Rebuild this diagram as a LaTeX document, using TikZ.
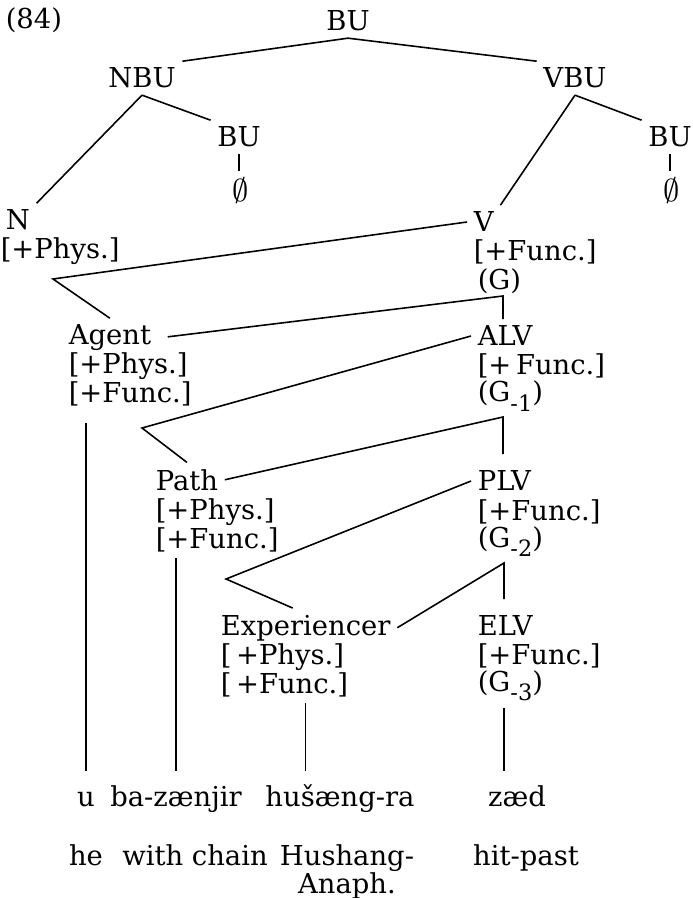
\documentclass[tikz,border=0pt]{standalone}
\usepackage{fontspec}
\setmainfont{DejaVu Serif}
\usetikzlibrary{calc}
\newcommand{\nul}{{\fontsize{9.5}{9.5}\selectfont$\emptyset$}}
\newcommand{\lowsub}[1]{\raisebox{-0.35em}{\fontsize{6.4}{6.4}\selectfont #1}}

\begin{document}
\begin{tikzpicture}[x=0.1mm, y=-0.1mm, line width=0.45pt,
    every node/.style={inner sep=0.6mm, font=\fontsize{7.8}{8.25}\selectfont},
    lbl/.style={anchor=base west},
    cat/.style={anchor=base}]
    \useasboundingbox (0,0) rectangle (692,898);

    % --- upper tree ---
    \node[lbl] (num) at (-1,29) {(84)};
    \node[cat] (bu)  at (348,31) {BU};
    \node[cat] (nbu) at (142,88) {NBU};
    \node[cat] (vbu) at (575,88) {VBU};
    \node[cat] (nbuBU) at (239,147) {BU};
    \node[cat] (vbuBU) at (670,147) {BU};
    \node[cat] (nbuNull) at (241,202) {\nul};
    \node[cat] (vbuNull) at (672,202) {\nul};

    % --- feature stacks ---
    \node[lbl] (n)     at (-1,230) {N};
    \node[lbl] (nPhys) at (-6,259) {[+Phys.]};
    \node[lbl] (v)     at (467,232) {V};
    \node[lbl] (vFunc) at (467,261) {[+Func.]};
    \node[lbl] (vG)    at (471,290) {(G)};

    \node[lbl] (agent)     at (62,345) {Agent};
    \node[lbl] (agentPhys) at (62,374) {[+Phys.]};
    \node[lbl] (agentFunc) at (62,403) {[+Func.]};
    \node[lbl] (alv)     at (471,346) {ALV};
    \node[lbl] (alvFunc) at (471,375) {[+\,Func.]};
    \node[lbl] (alvG)    at (471,402) {(G\lowsub{-1})};

    \node[lbl] (path)     at (149,490) {Path};
    \node[lbl] (pathPhys) at (149,519) {[+Phys.]};
    \node[lbl] (pathFunc) at (149,548) {[+Func.]};
    \node[lbl] (plv)     at (471,491) {PLV};
    \node[lbl] (plvFunc) at (471,520) {[+Func.]};
    \node[lbl] (plvG)    at (471,547) {(G\lowsub{-2})};

    \node[lbl] (exp)     at (214,635) {Experiencer};
    \node[lbl] (expPhys) at (214,664) {[\,+Phys.]};
    \node[lbl] (expFunc) at (214,693) {[\,+Func.]};
    \node[lbl] (elv)     at (471,635) {ELV};
    \node[lbl] (elvFunc) at (471,664) {[+Func.]};
    \node[lbl] (elvG)    at (471,691) {(G\lowsub{-3})};

    % --- words and glosses ---
    \node[cat] (u)    at (86,806) {u};
    \node[cat] (ba)   at (176,806) {ba-zænjir};
    \node[cat] (hush) at (340,806) {hušæng-ra};
    \node[cat] (zaed) at (517,806) {zæd};
    \node[cat] (he)    at (86,865) {he};
    \node[cat] (chain) at (195,865) {with chain};
    \node[cat] (hushG) at (347,865) {Hushang-};
    \node[cat] (anaph) at (347,893) {Anaph.};
    \node[cat] (hit)   at (526,865) {hit-past};

    % corners of the association lines
    \coordinate (c1) at (53,279);
    \coordinate (c2) at (503,296);
    \coordinate (c3) at (142,428);
    \coordinate (c4) at (503,417);
    \coordinate (c5) at (226,579);
    \coordinate (c6) at (504,563);
    \coordinate (wordTop) at (0,771);

    % --- branches ---
    \draw (bu.south) -- (nbu.north east);
    \draw (bu.south) -- (vbu.north west);
    \draw (nbu.south) -- (n.north east);
    \draw (nbu.south) -- (nbuBU.north west);
    \draw (vbu.south) -- (v.north east);
    \draw (vbu.south) -- (vbuBU.north west);
    \draw (nbuBU.south) -- (nbuBU.south |- nbuNull.north);
    \draw (vbuBU.south) -- (vbuBU.south |- vbuNull.north);

    \draw (v.west) -- (c1) -- (agent.north);
    \draw[shorten <=1mm] (agent.east) -- (c2) -- (c2 |- alv.north);
    \draw (alv.west) -- (c3) -- (path.north);
    \draw[shorten >=1mm] (path.east) -- (c4) -- (c4 |- plv.north);
    \draw (plv.west) -- (c5) -- ([xshift=-1.3mm]exp.north);
    \draw[shorten >=0.9mm] (exp.east) -- (c6) -- (c6 |- elv.north);

    % drops to the words
    \draw[shorten <=1mm] (u.north |- agentFunc.south) -- (u.north |- wordTop);
    \draw (ba.north |- pathFunc.south) -- (ba.north |- wordTop);
    \draw (exp.south |- expFunc.south) -- (exp.south |- wordTop);
    \draw (c6 |- elvG.south) -- (c6 |- wordTop);
\end{tikzpicture}
\end{document}
